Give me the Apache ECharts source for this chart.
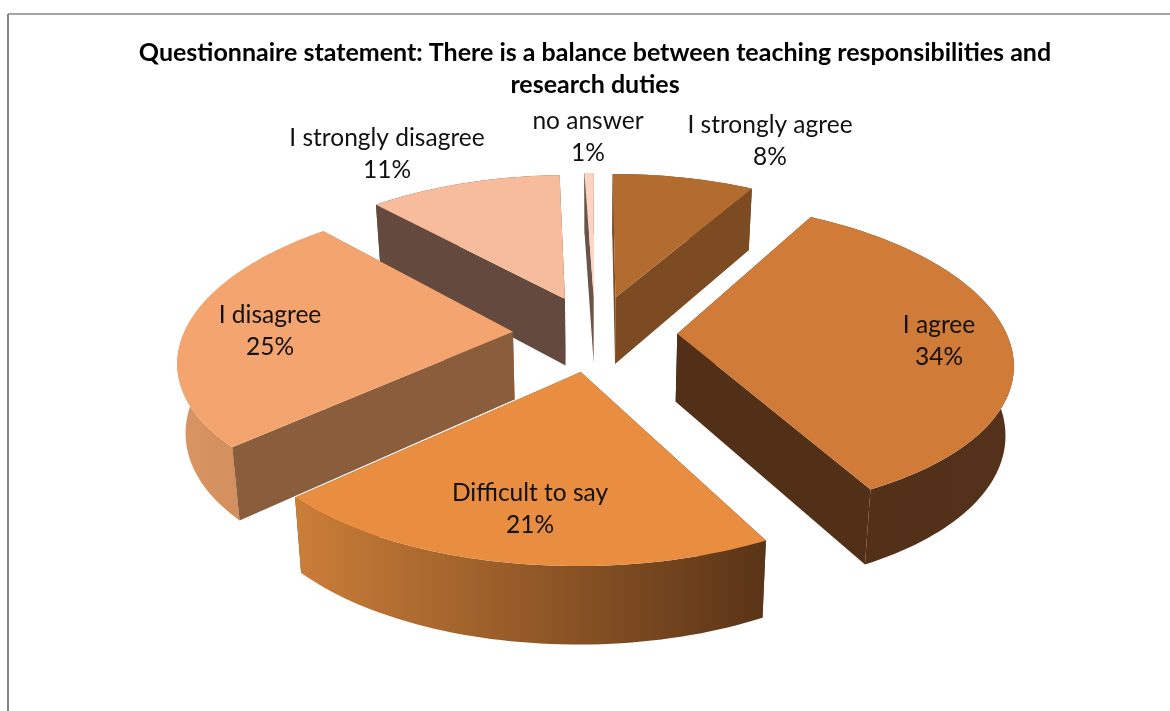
<!DOCTYPE html>
<html>
<head>
<meta charset="utf-8">
<script src="https://cdn.jsdelivr.net/npm/echarts@6/dist/echarts.min.js"></script>
<style>html,body{margin:0;padding:0;background:#fff}#c{width:1170px;height:711px}</style>
</head>
<body>
<div id="c"></div>
<script>
const categories = ['I strongly agree', 'I agree', 'Difficult to say', 'I disagree', 'I strongly disagree', 'no answer'];
const values = [8.33, 34, 20.67, 25.15, 11.3, 0.55];
const titleText = 'Questionnaire statement: There is a balance between teaching responsibilities and\nresearch duties';

// Styles
const topColors = ['#B36C30', '#D07B38', '#E98E40', '#F4A46E', '#F6BC9C', '#FBD5C1'];
const cutColors = ['#7C4B22', '#523018', '#5E3718', '#8A5D3C', '#644A3E', '#6B5347'];
const outerColors = [
  ['#7C4B22', '#7C4B22'],
  ['#523018', '#53311A'],
  ['#CB7E38', '#5A3417'],
  ['#DA9564', '#C98553'],
  ['#644A3E', '#644A3E'],
  ['#6B5347', '#6B5347']
];
const paintOrder = [4, 5, 0, 1, 3, 2]; // back to front by data index

// Layout
const CX = 595, CY = 333, R = 329, RT = 152, KX = 0.166, KY = 0.15, H = 68, EXPLODE = 0.25;
const BOTTOM_X_SCALE = 0.98, DEPTH_GROWTH = 0.045;
const labelCenters = [[770, 141], [939, 341], [530, 509], [270, 331], [387, 154], [588, 137]];
const LABEL_FONT = 'Lato, "Open Sans", sans-serif';

function project(wx, wy, z) {
  const dx = R * wx / (1 - KX * wy), dy = RT * wy / (1 - KY * wy);
  return [
    CX + dx * (1 - (1 - BOTTOM_X_SCALE) * z),
    CY + dy + (H + DEPTH_GROWTH * dy) * z
  ];
}
// theta: clockwise from the top of the disc, radians
function rimPoint(theta, radius, mid, z) {
  const wx = Math.sin(theta) * radius + Math.sin(mid) * EXPLODE;
  const wy = -Math.cos(theta) * radius - Math.cos(mid) * EXPLODE;
  return project(wx, wy, z);
}
function area(pts) {
  let s = 0;
  for (let i = 0; i < pts.length; i++) {
    const a = pts[i], b = pts[(i + 1) % pts.length];
    s += a[0] * b[1] - b[0] * a[1];
  }
  return s;
}
const total = values.reduce((a, b) => a + b, 0);

function renderSlice(params, api) {
  const idx = params.dataIndex;
  const val = api.value(0);
  let before = 0;
  for (let i = 0; i < idx; i++) before += values[i];
  const a0 = before / total * Math.PI * 2;
  const a1 = (before + val) / total * Math.PI * 2;
  const mid = (a0 + a1) / 2;
  const steps = Math.max(4, Math.round((a1 - a0) * 40));
  const topArc = [], botArc = [];
  for (let i = 0; i <= steps; i++) {
    const t = a0 + (a1 - a0) * i / steps;
    topArc.push(rimPoint(t, 1, mid, 0));
    botArc.push(rimPoint(t, 1, mid, 1));
  }
  const apexTop = rimPoint(0, 0, mid, 0), apexBot = rimPoint(0, 0, mid, 1);
  const startWall = [apexTop, topArc[0], botArc[0], apexBot];
  const endWall = [apexTop, topArc[steps], botArc[steps], apexBot];
  const base = paintOrder.indexOf(idx) * 10;
  const startFront = area(startWall) < 0;
  const endFront = area(endWall) > 0;
  const poly = (pts, fill, z) => ({
    type: 'polygon',
    z2: base + z,
    shape: { points: pts },
    style: { fill: fill, lineWidth: 0 },
    silent: true
  });
  const outerFill = {
    type: 'linear', x: 0, y: 0, x2: 1, y2: 0,
    colorStops: [
      { offset: 0, color: outerColors[idx][0] },
      { offset: 1, color: outerColors[idx][1] }
    ]
  };
  const children = [
    poly(startWall, cutColors[idx], startFront ? 3 : 1),
    poly(endWall, cutColors[idx], endFront ? 3 : 1),
    poly(topArc.concat(botArc.slice().reverse()), outerFill, 2),
    poly([apexTop].concat(topArc), topColors[idx], 4),
    {
      type: 'text',
      z2: 200,
      style: {
        x: labelCenters[idx][0],
        y: labelCenters[idx][1],
        text: categories[idx] + '\n' + Math.max(1, Math.round(val)) + '%',
        fill: '#111',
        font: '24.5px ' + LABEL_FONT,
        lineHeight: 32,
        align: 'center',
        verticalAlign: 'middle'
      }
    }
  ];
  return { type: 'group', children: children };
}

const chart = echarts.init(document.getElementById('c'), null, { renderer: 'canvas' });
chart.setOption({
  animation: false,
  backgroundColor: '#fff',
  title: {
    text: titleText,
    left: 590,
    top: 32,
    textAlign: 'center',
    textStyle: {
      fontFamily: LABEL_FONT,
      fontWeight: 'bold',
      fontSize: 25,
      lineHeight: 32,
      color: '#000'
    }
  },
  graphic: [
    { type: 'line', shape: { x1: 8, y1: 14, x2: 1170, y2: 14 }, style: { stroke: '#868686', lineWidth: 1.5 } },
    { type: 'line', shape: { x1: 8, y1: 14, x2: 8, y2: 711 }, style: { stroke: '#868686', lineWidth: 2 } }
  ],
  series: [{
    type: 'custom',
    coordinateSystem: 'none',
    name: 'Questionnaire',
    data: values.map((v, i) => ({ name: categories[i], value: [v] })),
    renderItem: renderSlice
  }]
});
</script>
</body>
</html>
